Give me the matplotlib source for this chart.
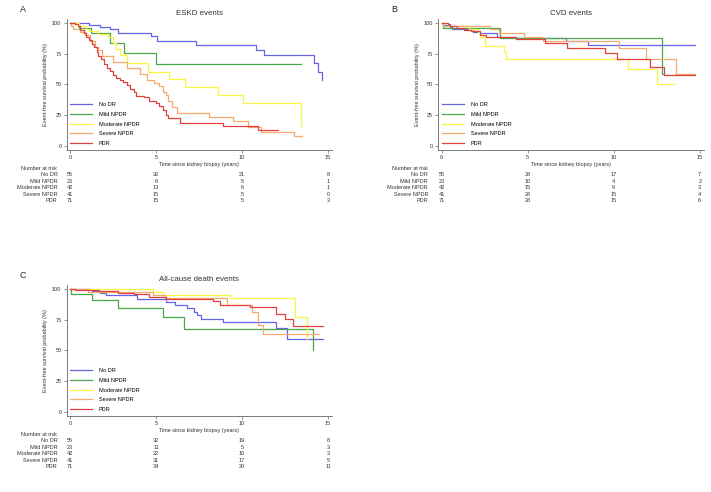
import numpy as np
import matplotlib
matplotlib.use('Agg')
import matplotlib.pyplot as plt
from matplotlib.transforms import blended_transform_factory

plt.rcParams['font.family'] = ['Liberation Sans', 'DejaVu Sans']

# ------------------------------------------------------------
# Datos (curvas de Kaplan-Meier)
# ------------------------------------------------------------
grupos = ['No DR', 'Mild NPDR', 'Moderate NPDR', 'Severe NPDR', 'PDR']
colores = ['#6464e6', '#4ca64c', '#f7f740', '#f2aa6e', '#e2403f']
tiempos_riesgo = [0, 5, 10, 15]

# A: ESKD
eskd_t = [
    [0, 1.12, 1.74, 2.3, 2.8, 4.7, 5.05, 7.3, 10.8, 11.25, 14.2, 14.4, 14.62],
    [0, 0.54, 1.2, 2.35, 3.15, 5.0],
    [0, 0.5, 0.9, 1.1, 1.6, 2.2, 2.5, 2.7, 2.9, 3.3, 4.55, 5.75, 6.7, 8.6, 10.05, 13.4],
    [0, 0.05, 0.2, 0.6, 0.87, 1.16, 1.45, 1.6, 1.84, 2.5, 3.3, 4.05, 4.45, 4.9, 5.2,
     5.4, 5.55, 5.7, 5.9, 6.2, 8.1, 9.5, 10.35, 11.1, 13.0],
    [0, 0.3, 0.45, 0.6, 0.8, 0.95, 1.1, 1.25, 1.4, 1.55, 1.65, 1.8, 2.0, 2.15, 2.3,
     2.5, 2.7, 2.9, 3.1, 3.3, 3.5, 3.7, 3.85, 4.3, 4.6, 5.0, 5.2, 5.4, 5.55, 5.7,
     6.4, 8.9, 10.9],
]
eskd_s = [
    [100, 98.2, 96.4, 94.5, 91.4, 89.5, 85.1, 81.8, 78.2, 73.8, 67.0, 60.0, 53.5],
    [100, 95.7, 91.3, 83.5, 75.7, 66.2],
    [100, 97.6, 95.2, 92.9, 90.5, 88.1, 83.3, 78.6, 73.8, 67.5, 60.3, 54.3, 48.0, 41.4, 34.6, 16.0],
    [100, 97.6, 95.1, 92.7, 90.2, 85.4, 80.5, 78.0, 73.2, 68.3, 63.4, 58.5, 53.7, 51.2, 48.8,
     43.9, 41.5, 36.6, 31.7, 26.8, 23.9, 20.5, 15.4, 11.5, 8.1],
    [100, 98.6, 97.2, 94.4, 91.5, 88.7, 85.9, 83.1, 80.3, 76.1, 73.2, 70.4, 66.2, 63.4, 60.6,
     57.7, 54.9, 53.5, 52.1, 49.3, 46.5, 43.7, 40.8, 39.4, 36.6, 35.2, 32.4, 29.6, 25.4, 22.4,
     19.0, 16.2, 13.0],
]
eskd_fin = [14.65, 13.45, 13.42, 13.5, 12.1]
eskd_riesgo = [[55, 30, 21, 8], [23, 8, 5, 1], [42, 13, 6, 1], [41, 15, 5, 0], [71, 15, 5, 3]]

# B: CVD
cvd_t = [
    [0, 0.05, 0.5, 0.6, 1.8, 2.2, 3.2, 4.3, 7.2, 8.5],
    [0, 0.05, 3.4, 12.8],
    [0, 0.1, 1.6, 2.1, 2.2, 2.5, 3.6, 3.75, 10.8, 12.5],
    [0, 0.05, 2.8, 3.3, 4.8, 5.9, 10.3, 11.9, 13.6],
    [0, 0.35, 0.5, 0.9, 1.3, 1.7, 2.2, 2.6, 4.3, 6.0, 7.3, 9.5, 10.2, 12.1, 12.9],
]
cvd_s = [
    [100, 98.2, 96.4, 94.5, 92.7, 91.4, 88.6, 87.8, 85.4, 81.6],
    [100, 95.7, 87.9, 58.6],
    [100, 97.6, 95.2, 92.5, 88.3, 81.4, 76.5, 70.5, 62.2, 50.3],
    [100, 97.6, 94.8, 91.4, 88.6, 85.4, 79.2, 70.3, 58.4],
    [100, 98.6, 97.2, 95.8, 94.3, 92.9, 90.0, 88.6, 86.5, 83.6, 79.7, 75.7, 70.3, 64.3, 57.6],
]
cvd_fin = [14.7, 12.85, 13.5, 14.7, 14.7]
cvd_riesgo = [[55, 28, 17, 7], [23, 10, 4, 2], [42, 15, 9, 3], [41, 28, 15, 4], [71, 28, 15, 6]]

# C: muerte por cualquier causa
muerte_t = [
    [0, 1.26, 1.74, 2.1, 3.9, 5.6, 6.1, 6.8, 7.2, 7.4, 7.6, 8.9, 12.0, 12.6],
    [0, 0.05, 1.3, 2.8, 5.4, 6.6, 14.1],
    [0, 4.8, 5.4, 9.3, 13.1, 13.75],
    [0, 1.06, 4.85, 5.5, 9.1, 10.55, 10.9, 11.2],
    [0, 0.3, 1.7, 2.8, 3.7, 4.6, 5.6, 8.3, 8.7, 10.45, 12.0, 12.5, 12.95],
]
muerte_s = [
    [100, 98.2, 96.4, 94.5, 91.4, 89.2, 87.0, 84.4, 81.2, 78.5, 75.8, 72.7, 67.8, 58.9],
    [100, 95.7, 91.1, 84.6, 76.7, 67.2, 50.0],
    [100, 97.6, 95.2, 92.5, 77.0, 59.6],
    [100, 97.6, 95.1, 92.2, 86.6, 81.2, 70.4, 63.4],
    [100, 98.6, 97.8, 96.8, 95.4, 93.3, 92.0, 89.8, 86.6, 85.0, 79.8, 75.1, 69.6],
]
muerte_fin = [14.7, 14.1, 13.8, 14.5, 14.7]
muerte_riesgo = [[55, 32, 19, 8], [23, 11, 5, 3], [42, 22, 10, 3], [41, 31, 17, 5], [71, 34, 20, 11]]

# ------------------------------------------------------------
# Figura
# ------------------------------------------------------------
W, H = 711, 492
fig = plt.figure(figsize=(W / 100, H / 100), dpi=100)

FS = 4.0
GRIS = '#333333'


def panel(px_izq, px_base, letra, titulo, ts, ss, fines, riesgo, px_etq):
    ax = fig.add_axes([px_izq / W, 1 - px_base / H, 265.4 / W, 131 / H])
    for t, s, fin, c, g in zip(ts, ss, fines, colores, grupos):
        x = np.append(t, fin)
        y = np.append(s, s[-1])
        ax.step(x, y, where='post', color=c, lw=0.9, label=g)
    ax.set_xlim(-0.2, 15.23)
    ax.set_ylim(-3.2, 103)
    ax.set_xticks([0, 5, 10, 15])
    ax.set_yticks([0, 25, 50, 75, 100])
    for lado in ['top', 'right']:
        ax.spines[lado].set_visible(False)
    for lado in ['left', 'bottom']:
        ax.spines[lado].set_color('#666666')
        ax.spines[lado].set_linewidth(0.6)
    ax.tick_params(labelsize=FS, length=2.2, width=0.5, pad=1.5,
                   colors='#666666', labelcolor=GRIS)
    ax.set_xlabel('Time since kidney biopsy (years)', fontsize=FS, color=GRIS, labelpad=1.2)
    ax.set_ylabel('Event-free survival probability (%)', fontsize=FS, color=GRIS, labelpad=3)
    ax.set_title(titulo, fontsize=5.7, color=GRIS, pad=3)
    ax.legend(loc='lower left', bbox_to_anchor=(0.0, 0.0), frameon=False,
              fontsize=FS, handlelength=3.9, handletextpad=1.2,
              labelspacing=0.85, borderaxespad=0.3)
    fig.text((px_izq - 47) / W, 1 - (px_base - 140) / H, letra, fontsize=6.5,
             color='#222222', va='center', ha='left')

    # tabla de número en riesgo
    tr = blended_transform_factory(ax.transData, fig.transFigure)
    fig.text(px_etq / W, 1 - (px_base + 18) / H, 'Number at risk', fontsize=FS,
             color=GRIS, ha='right', va='center')
    for i, (g, fila) in enumerate(zip(grupos, riesgo)):
        yy = 1 - (px_base + 25 + 6.4 * i) / H
        fig.text(px_etq / W, yy, g, fontsize=FS, color=GRIS, ha='right', va='center')
        for t, n in zip(tiempos_riesgo, fila):
            ax.text(t, yy, str(n), transform=tr, fontsize=FS, color=GRIS,
                    ha='center', va='center')
    return ax


panel(66.6, 150, 'A', 'ESKD events', eskd_t, eskd_s, eskd_fin, eskd_riesgo, 57.3)
panel(438.3, 150, 'B', 'CVD events', cvd_t, cvd_s, cvd_fin, cvd_riesgo, 428)
panel(66.6, 416, 'C', 'All-cause death events', muerte_t, muerte_s, muerte_fin,
      muerte_riesgo, 57.3)

fig.savefig('out.png', dpi=100)
